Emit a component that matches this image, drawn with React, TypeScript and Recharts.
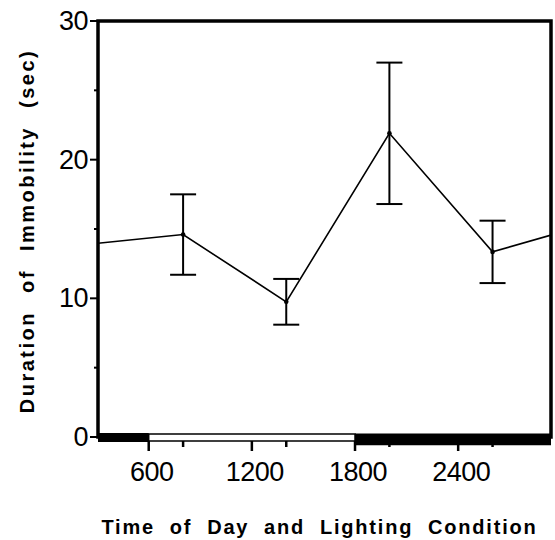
import { ErrorBar, Line, LineChart, ReferenceArea, XAxis, YAxis } from 'recharts';

// time of day (24 h clock) and mean immobility with error
const hours = [800, 1400, 2000, 2600];
const meanImmobility = [14.6, 9.75, 21.9, 13.35];
const errImmobility = [2.9, 1.65, 5.1, 2.25];

// visible span of the time axis and where the line meets the frame
const hourRange = [305, 2940];
const edgeImmobility = [13.97, 14.56];

const hourTicks = [600, 1200, 1800, 2400];
const immobilityTicks = [0, 10, 20, 30];
const minorImmobilityTicks = [5, 15, 25];

const lightsOn = 600;
const lightsOff = 1800;

const data = [
  { hour: hourRange[0], mean: edgeImmobility[0] },
  ...hours.map((hour, i) => ({ hour, mean: meanImmobility[i], err: errImmobility[i] })),
  { hour: hourRange[1], mean: edgeImmobility[1] },
];

const font = '"Liberation Sans", Arial, sans-serif';
const tickFont = { fontFamily: font, fontSize: 27, letterSpacing: -0.5, fill: '#000' };
const xTitleFont = { fontFamily: font, fontSize: 20, fontWeight: 700, letterSpacing: 1.8, wordSpacing: 7.5, fill: '#000' };
const yTitleFont = { fontFamily: font, fontSize: 20, fontWeight: 700, letterSpacing: 2.5, wordSpacing: 10, fill: '#000' };

const HourTick = (props: any) => {
  const { x, y, payload } = props;
  const major = hourTicks.includes(payload.value);
  return (
    <g>
      <line x1={x} x2={x} y1={y + 4} y2={y + (major ? 14 : 10)} stroke="#000" strokeWidth={2.5} />
      {major && (
        <text x={x + 3} y={y + 35} textAnchor="middle" dominantBaseline="central" style={tickFont}>
          {payload.value}
        </text>
      )}
    </g>
  );
};

const ImmobilityTick = (props: any) => {
  const { x, y, payload } = props;
  const major = immobilityTicks.includes(payload.value);
  return (
    <g>
      <line x1={x - (major ? 8 : 4)} x2={x} y1={y} y2={y} stroke="#000" strokeWidth={2} />
      {major && (
        <text x={x - 10} y={y} textAnchor="end" dominantBaseline="central" style={tickFont}>
          {payload.value}
        </text>
      )}
    </g>
  );
};

const MeanDot = (props: any) => {
  const { cx, cy, payload, index } = props;
  if (payload.err == null) return <g key={`d${index}`} />;
  return <circle key={`d${index}`} cx={cx} cy={cy} r={2.3} fill="#000" />;
};

const App = () => {
  return (
    <div style={{ position: 'absolute', left: 0, top: 0, background: '#fff' }}>
      <LineChart width={555} height={540} data={data} margin={{ top: 21, right: 4, bottom: 0, left: 0 }}>
        <XAxis
          type="number"
          dataKey="hour"
          domain={hourRange}
          allowDataOverflow
          ticks={[...hourTicks, ...hours].sort((a, b) => a - b)}
          interval={0}
          height={103}
          axisLine={false}
          tickLine={false}
          tickSize={0}
          tickMargin={0}
          tick={<HourTick />}
          label={{
            content: (p: any) => (
              <text
                x={p.viewBox.x + p.viewBox.width / 2 - 5}
                y={p.viewBox.y + p.viewBox.height - 6}
                textAnchor="middle"
                style={xTitleFont}
              >
                Time of Day and Lighting Condition
              </text>
            ),
          }}
        />
        <YAxis
          type="number"
          domain={[0, 30]}
          allowDataOverflow
          ticks={[...immobilityTicks, ...minorImmobilityTicks].sort((a, b) => a - b)}
          interval={0}
          width={98}
          axisLine={false}
          tickLine={false}
          tickSize={0}
          tickMargin={0}
          tick={<ImmobilityTick />}
          label={{
            content: (p: any) => {
              const cx = 27;
              const cy = p.viewBox.y + p.viewBox.height / 2 + 2;
              return (
                <text
                  x={cx}
                  y={cy}
                  transform={`rotate(-90 ${cx} ${cy})`}
                  textAnchor="middle"
                  dominantBaseline="central"
                  style={yTitleFont}
                >
                  Duration of Immobility (sec)
                </text>
              );
            },
          }}
        />
        <ReferenceArea
          x1={hourRange[0]}
          x2={hourRange[1]}
          y1={0}
          y2={30}
          fill="none"
          stroke="#000"
          strokeWidth={3.5}
          ifOverflow="visible"
        />
        {/* lighting condition bar along the time axis */}
        <ReferenceArea
          x1={hourRange[0]}
          x2={lightsOn}
          y1={-0.36}
          y2={0.29}
          fill="#000"
          fillOpacity={1}
          stroke="none"
          ifOverflow="visible"
        />
        <ReferenceArea
          x1={lightsOn}
          x2={lightsOff}
          y1={-0.29}
          y2={0.22}
          fill="#fff"
          fillOpacity={1}
          stroke="#000"
          strokeWidth={1.5}
          ifOverflow="visible"
        />
        <ReferenceArea
          x1={lightsOff}
          x2={hourRange[1]}
          y1={-0.6}
          y2={0.25}
          fill="#000"
          fillOpacity={1}
          stroke="none"
          ifOverflow="visible"
        />
        <Line
          type="linear"
          dataKey="mean"
          stroke="#000"
          strokeWidth={1.6}
          dot={MeanDot}
          activeDot={false}
          isAnimationActive={false}
        >
          <ErrorBar dataKey="err" direction="y" width={13} stroke="#000" strokeWidth={2} isAnimationActive={false} />
        </Line>
      </LineChart>
    </div>
  );
};

export default App;
